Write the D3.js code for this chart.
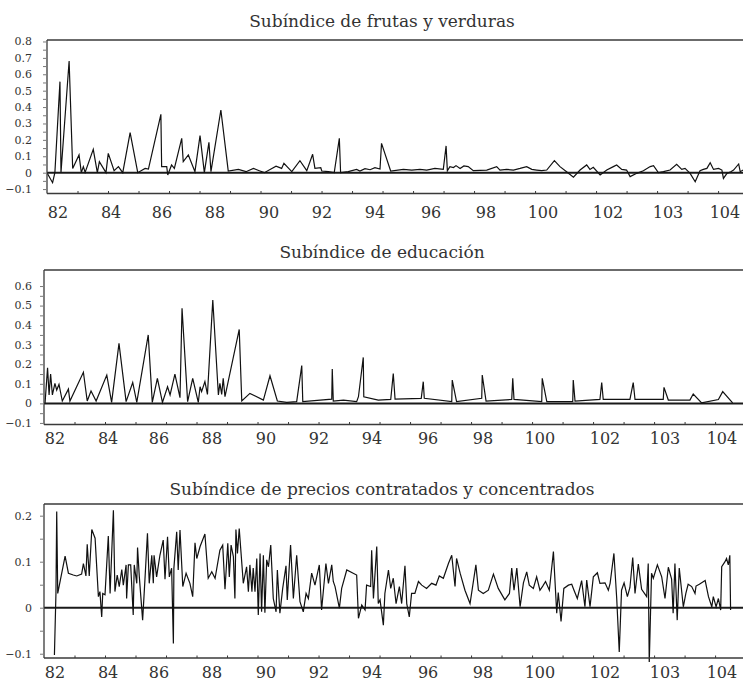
<!DOCTYPE html>
<html>
<head>
<meta charset="utf-8">
<script src="https://cdn.jsdelivr.net/npm/d3@7"></script>
<style>
  html, body { margin: 0; padding: 0; background: #fff; }
  svg { display: block; }
</style>
</head>
<body>
<svg id="chart" width="743" height="682"></svg>
<script>
// ---------------- DATA ----------------
// x = month index since start of year 82 (ROC calendar), y = value
const xTickLabels = ["82","84","86","88","90","92","94","96","98","100","102","103","104"];
const xTickLabelMonths = [4.3, 25.2, 45.2, 66.1, 87.3, 108.2, 129.0, 151.1, 172.7, 195.1, 220.7, 244.3, 266.7];

const titles = [
  "Subíndice de frutas y verduras",
  "Subíndice de educación",
  "Subíndice de precios contratados y concentrados"
];

const fruitYTicks = [-0.1, 0, 0.1, 0.2, 0.3, 0.4, 0.5, 0.6, 0.7, 0.8];
const educYTicks = [-0.1, 0, 0.1, 0.2, 0.3, 0.4, 0.5, 0.6];
const priceYTicks = [-0.1, 0, 0.1, 0.2];

const fruitSeries = [
  [0,0],[2.2,-0.061],[3.1,0],[5.1,0.555],[5.5,0],[8.7,0.681],[10.1,0.026],[12.6,0.108],[13.5,0],[14.3,0.037],
  [15.0,0.002],[18.2,0.142],[19.8,0],[20.6,0.067],[23.2,0],[24.1,0.118],[26.4,0.012],[28.1,0.037],[29.8,0],
  [32.7,0.244],[35.7,0],[38.6,0.026],[39.9,0.022],[44.8,0.356],[45.1,0.037],[47.1,0.037],[47.5,-0.014],
  [49.0,0.047],[50.1,0.026],[53.0,0.209],[53.6,0.067],[55.6,0.108],[58.2,0.006],[60.2,0.226],[61.9,0],
  [63.7,0.185],[64.5,0.006],[68.4,0.382],[71.3,0.01],[75.3,0.02],[78.3,0.006],[81.2,0.026],[83.5,0.012],
  [85.5,0],[90.1,0.04],[92.3,0.026],[93.2,0.057],[96.3,0.006],[99.5,0.073],[102.2,0.012],[104.5,0.112],
  [105.4,0.026],[107.7,0.03],[108.1,0.01],[110.7,0.006],[113.0,0],[115.0,0.209],[115.5,0],[118.5,0.006],
  [121.8,0.02],[123.1,0.01],[125.1,0.024],[127.1,0.018],[129.0,0.03],[131.0,0.022],[131.6,0.179],[135.2,0.01],
  [140.2,0.02],[143.5,0.016],[146.7,0.02],[149.4,0.016],[152.6,0.026],[155.9,0.02],[157.0,0.163],[157.5,0.012],
  [158.5,0.037],[159.9,0.031],[160.9,0.043],[162.5,0.026],[164.0,0.041],[165.7,0.037],[167.7,0.012],
  [173.0,0.016],[176.9,0.037],[178.2,0.016],[180.8,0.02],[183.5,0.016],[186.1,0.026],[188.7,0.037],
  [190.7,0.02],[192.6,0.016],[194.6,0.012],[196.6,0.016],[199.6,0.073],[201.8,0.037],[204.4,0.006],
  [207.1,-0.028],[209.7,0.016],[212.3,0.047],[213.6,0.02],[214.9,0.033],[217.6,-0.014],[220.2,0.016],
  [222.8,0.037],[224.1,0.047],[226.1,0.02],[228.0,0.016],[229.4,-0.024],[232.0,-0.004],[234.6,0.012],
  [237.3,0.037],[238.6,0.043],[240.5,0],[242.5,0.006],[245.1,0.016],[247.7,0.051],[249.7,0.02],[251.0,0.026],
  [253.0,-0.004],[255.0,-0.055],[256.9,0.012],[258.2,0.02],[259.6,0.026],[260.9,0.061],[262.2,0.02],
  [264.2,0.026],[265.5,0.016],[266.1,-0.035],[267.5,-0.004],[269.0,0.006],[270.1,0.016],[272.1,0.053],
  [272.7,0.006],[273.9,0.016]
];

const educSeries = [
  [0.4,0],[1.4,0.182],[2.0,0.043],[2.6,0.15],[3.3,0.043],[4.3,0.102],[5.0,0.068],[5.9,0.097],[7.2,0.012],
  [9.6,0.073],[10.2,0.012],[15.5,0.159],[17.0,0.012],[18.5,0.063],[20.5,0.012],[24.7,0.145],[26.6,0.005],
  [29.5,0.307],[32.3,0.009],[34.9,0.107],[36.5,0.005],[41.0,0.35],[42.6,0.005],[44.6,0.128],[46.6,0.005],
  [48.6,0.085],[49.6,0.043],[51.5,0.15],[53.5,0.029],[54.3,0.486],[56.5,0.009],[58.5,0.128],[60.7,0.005],
  [61.4,0.085],[62.0,0.06],[63.3,0.111],[64.3,0.046],[66.4,0.529],[68.6,0.043],[69.2,0.102],[69.9,0.046],
  [70.5,0.128],[71.2,0.034],[76.8,0.378],[77.8,0.012],[81.0,0.051],[86.3,0.017],[88.9,0.141],[91.8,0.012],
  [95.5,0.005],[99.4,0.009],[101.4,0.193],[101.8,0.009],[113.2,0.022],[113.4,0.176],[113.8,0.012],
  [117.8,0.017],[123.0,0.009],[123.7,0.034],[125.6,0.235],[125.8,0.034],[131.5,0.017],[136.4,0.02],
  [137.4,0.153],[138.1,0.022],[148.4,0.026],[149.2,0.111],[149.6,0.026],[160.4,0.009],[160.6,0.119],
  [162.3,0.009],[172.2,0.026],[172.4,0.145],[173.9,0.012],[184.0,0.02],[184.4,0.128],[184.9,0.02],
  [195.8,0.009],[196.0,0.128],[197.8,0.009],[208.0,0.009],[208.2,0.119],[208.9,0.012],[218.7,0.02],
  [219.4,0.107],[220.0,0.02],[230.5,0.02],[231.8,0.106],[232.5,0.02],[243.6,0.02],[243.9,0.082],
  [245.6,0.017],[254.1,0.017],[255.4,0.048],[258.7,0.003],[265.3,0.02],[267.0,0.06],[270.9,0.003]
];

const priceSeries = [
  [4.1,-0.103],[4.7,0.031],[5.0,0.209],[5.4,0.031],[8.3,0.112],[9.6,0.075],[11.5,0.071],[12.9,0.069],
  [14.8,0.073],[15.5,0.096],[16.5,0.069],[17.0,0.138],[17.8,0.069],[18.8,0.17],[20.1,0.151],[21.4,0.024],
  [22.0,0.035],[22.7,-0.02],[23.1,0.031],[24.0,0.028],[25.3,0.156],[26.0,0.031],[27.3,0.212],[27.9,0.035],
  [28.8,0.071],[29.6,0.046],[30.6,0.083],[31.2,0.049],[32.3,0.093],[32.5,0.02],[33.2,0.093],[34.1,0.093],
  [35.1,-0.016],[35.5,0.093],[36.5,0.053],[36.8,0.131],[37.5,0.067],[38.8,-0.027],[39.7,0.06],[40.7,0.162],
  [41.4,0.053],[42.4,0.114],[43.0,0.053],[43.3,0.114],[44.3,0.067],[45.6,0.114],[46.9,0.147],[47.6,0.062],
  [48.6,0.154],[49.3,0.067],[50.2,0.086],[50.9,-0.078],[51.1,0.086],[52.2,0.165],[52.8,0.082],[53.5,0.169],
  [54.6,0.046],[55.9,0.075],[57.4,0.053],[58.5,0.024],[59.4,0.141],[60.1,0.107],[61.4,0.133],[63.3,0.16],
  [64.6,0.064],[66.0,0.078],[67.3,0.064],[69.2,0.125],[70.3,0.136],[71.2,0.04],[72.3,0.14],[72.9,0.067],
  [73.6,0.136],[74.5,0.111],[75.1,0.02],[75.5,0.17],[76.1,0.118],[76.8,0.172],[78.4,0.053],[79.7,0.089],
  [80.4,0.035],[81.0,0.093],[81.8,0.035],[82.3,0.086],[83.0,0.035],[83.7,0.107],[84.3,-0.016],[85.0,0.118],
  [85.6,-0.009],[86.3,0.114],[86.9,-0.011],[87.6,0.104],[88.3,0.089],[89.2,0.136],[90.2,0.02],[91.3,-0.009],
  [91.8,0.082],[92.8,-0.012],[93.9,0.042],[95.2,0.091],[95.7,0.017],[97.0,0.136],[98.1,0.02],[99.4,0.114],
  [100.7,0.013],[102.0,-0.009],[103.1,0.031],[104.0,0.02],[105.3,0.075],[106.6,0.049],[108.3,0.093],
  [109.2,-0.005],[110.9,0.096],[111.9,0.053],[113.2,0.093],[113.8,0.057],[114.5,0.046],[116.2,-0.001],
  [117.1,0.042],[119.1,0.082],[123.0,0.071],[123.7,-0.023],[125.0,0.006],[126.3,-0.005],[126.9,0.049],
  [128.5,0.046],[128.9,0.125],[129.6,0.02],[130.9,0.133],[131.5,0.009],[132.2,0.017],[133.5,-0.038],
  [134.1,0.031],[135.5,0.082],[136.4,0.042],[137.4,0.064],[138.5,0.009],[139.8,0.046],[140.7,0.009],
  [142.0,0.091],[142.7,0.009],[143.7,-0.02],[144.6,0.031],[145.9,0.031],[147.3,0.057],[148.6,0.049],
  [150.5,0.042],[152.5,0.053],[154.2,0.049],[155.5,0.069],[157.1,0.064],[159.1,0.096],[160.4,0.114],
  [161.7,0.046],[162.3,0.107],[163.7,0.075],[165.6,0.038],[167.6,0.009],[169.9,0.093],[170.9,0.038],
  [172.8,0.031],[174.8,0.038],[176.8,0.073],[178.7,0.042],[181.3,0.017],[183.1,0.031],[184.0,0.086],
  [184.9,0.038],[186.0,0.086],[187.3,0.002],[188.6,0.054],[189.9,0.078],[190.9,0.049],[192.5,0.042],
  [193.8,0.067],[195.1,0.038],[196.2,0.047],[197.3,0.057],[198.8,0.038],[200.4,0.122],[201.7,-0.012],
  [202.3,0.033],[203.4,-0.03],[204.5,0.042],[206.3,0.049],[207.6,0.051],[208.5,0.038],[209.8,0.02],
  [211.5,0.059],[212.8,0.002],[213.5,0.06],[214.8,0.002],[216.1,0.067],[217.7,0.076],[218.7,0.053],
  [220.7,0.054],[222.0,0.038],[222.7,0.053],[224.2,0.118],[225.3,0.02],[226.3,-0.096],[227.2,0.038],
  [228.2,0.054],[229.5,0.024],[230.5,0.044],[231.6,0.109],[232.5,0.031],[233.8,0.095],[235.1,0.04],
  [237.1,0.024],[237.7,0.096],[238.1,-0.121],[239.0,0.075],[239.7,0.064],[241.3,0.093],[243.0,0.067],
  [244.3,0.02],[245.6,0.088],[246.9,0.062],[247.5,-0.012],[248.2,0.096],[249.1,-0.027],[249.9,0.086],
  [251.5,0.002],[252.5,0.031],[253.4,0.051],[254.8,0.046],[256.1,0.031],[256.5,0.047],[257.8,0.051],
  [260.1,0.059],[261.4,0.024],[262.7,0.002],[263.3,0.024],[264.4,0.002],[265.3,0.02],[266.2,-0.005],
  [266.6,0.089],[267.9,0.1],[268.5,0.107],[269.2,0.093],[269.8,0.114],[270.1,-0.005]
];

// ---------------- LAYOUT ----------------
const svg = d3.select("#chart");
svg.append("rect").attr("width", 743).attr("height", 682).attr("fill", "#fff");

const FONT = "'DejaVu Serif', 'Liberation Serif', serif";
const INK = "#333";

const panels = [
  { title: titles[0], data: fruitSeries, yTicks: fruitYTicks, left: 47, top: 40, bottom: 193.5,
    yDomain: [-0.127, 0.809], titleY: 27, labelY: 218 },
  { title: titles[1], data: educSeries, yTicks: educYTicks, left: 44, top: 270, bottom: 424.5,
    yDomain: [-0.108, 0.682], titleY: 258, labelY: 444 },
  { title: titles[2], data: priceSeries, yTicks: priceYTicks, left: 44, top: 504, bottom: 658,
    yDomain: [-0.1093, 0.2254], titleY: 495, labelY: 678 }
];

const monthsSpan = 274;
const pxPerMonth = 2.542;

panels.forEach((p, i) => {
  const right = p.left + monthsSpan * pxPerMonth;
  const x = d3.scaleLinear().domain([0, monthsSpan]).range([p.left, right]);
  const y = d3.scaleLinear().domain(p.yDomain).range([p.bottom, p.top]);
  const g = svg.append("g");

  // title
  g.append("text")
    .attr("x", 382).attr("y", p.titleY)
    .attr("text-anchor", "middle")
    .attr("font-family", FONT).attr("font-size", 17)
    .attr("fill", INK)
    .text(p.title);

  // clip
  const clipId = "clip" + i;
  svg.append("clipPath").attr("id", clipId)
    .append("rect").attr("x", p.left).attr("y", p.top - 2)
    .attr("width", 743 - p.left).attr("height", p.bottom - p.top + 6);

  // zero line
  g.append("line")
    .attr("x1", p.left).attr("x2", 743)
    .attr("y1", y(0)).attr("y2", y(0))
    .attr("stroke", "#1a1a1a").attr("stroke-width", 2);

  // data line
  const line = d3.line().x(d => x(d[0])).y(d => y(d[1]));
  g.append("path")
    .datum(p.data)
    .attr("clip-path", `url(#${clipId})`)
    .attr("d", line)
    .attr("fill", "none")
    .attr("stroke", "#111")
    .attr("stroke-width", 1.2)
    .attr("stroke-linejoin", "miter");

  // frame: top, left, bottom
  g.append("line").attr("x1", p.left).attr("x2", 743).attr("y1", p.top).attr("y2", p.top)
    .attr("stroke", "#3a3a3a").attr("stroke-width", 1.3);
  g.append("line").attr("x1", p.left).attr("x2", p.left).attr("y1", p.top).attr("y2", p.bottom)
    .attr("stroke", "#3a3a3a").attr("stroke-width", 1.3);
  g.append("line").attr("x1", p.left).attr("x2", 743).attr("y1", p.bottom).attr("y2", p.bottom)
    .attr("stroke", "#3a3a3a").attr("stroke-width", 1.3);

  // x ticks (yearly), pointing inward
  const xAxis = d3.axisBottom(x)
    .tickValues(d3.range(12, monthsSpan, 12))
    .tickSize(-2.5).tickFormat("");
  const xg = g.append("g").attr("transform", `translate(0,${p.bottom})`).call(xAxis);
  xg.select(".domain").remove();
  xg.selectAll(".tick line").attr("stroke", "#3a3a3a").attr("stroke-width", 1);

  // x labels
  g.selectAll(".xl").data(xTickLabels).enter().append("text")
    .attr("x", (d, k) => x(xTickLabelMonths[k]))
    .attr("y", p.labelY)
    .attr("text-anchor", "middle")
    .attr("font-family", FONT).attr("font-size", 16)
    .attr("fill", INK)
    .text(d => d);

  // y axis
  const minor = d3.range(p.yTicks[0], p.yTicks[p.yTicks.length - 1] + 1e-9, 0.05);
  const yAxis = d3.axisLeft(y).tickValues(minor).tickSize(3).tickFormat("");
  const yg = g.append("g").attr("transform", `translate(${p.left - 1},0)`).call(yAxis);
  yg.select(".domain").remove();
  yg.selectAll(".tick line").attr("stroke", "#555").attr("stroke-width", 0.8);

  g.selectAll(".yl").data(p.yTicks).enter().append("text")
    .attr("x", 32)
    .attr("y", d => y(d))
    .attr("dy", "0.35em")
    .attr("text-anchor", "end")
    .attr("font-family", FONT).attr("font-size", 11)
    .attr("fill", INK)
    .text(d => d === 0 ? "0" : d3.format(".1f")(d));
});
</script>
</body>
</html>
